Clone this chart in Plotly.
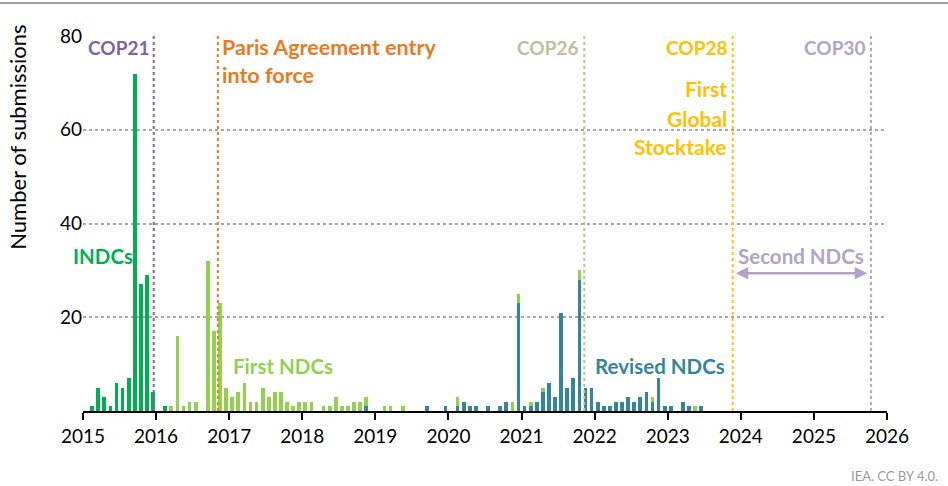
import plotly.graph_objects as go

# monthly submissions, Jan 2015 .. Dec 2023
years = list(range(2015, 2024))

indc = [
    0, 1, 5, 3, 1, 6, 5, 7, 72, 27, 29, 4,      # 2015
    0, 1, 0, 0, 0, 0, 0, 0, 0, 0, 0, 0,         # 2016
] + [0] * 12 * 7

first_ndc = [
    0, 0, 0, 0, 0, 0, 0, 0, 0, 0, 0, 0,         # 2015
    0, 0, 1, 16, 1, 2, 2, 0, 32, 17, 23, 5,     # 2016
    3, 4, 6, 2, 2, 5, 3, 4, 4, 2, 1, 2,         # 2017
    2, 2, 0, 1, 1, 3, 1, 1, 2, 2, 2, 0,         # 2018
    0, 1, 1, 0, 1, 0, 0, 0, 0, 0, 0, 0,         # 2019
    0, 2, 0, 0, 0, 0, 0, 0, 0, 0, 2, 2,         # 2020
    0, 1, 0, 1, 0, 0, 0, 0, 0, 2, 0, 0,         # 2021
    0, 0, 0, 0, 0, 0, 0, 0, 0, 1, 0, 0,         # 2022
    0, 0, 0, 0, 1, 0, 0, 0, 0, 0, 0, 0,         # 2023
]

revised_ndc = [
    0, 0, 0, 0, 0, 0, 0, 0, 0, 0, 0, 0,         # 2015
    0, 0, 0, 0, 0, 0, 0, 0, 0, 0, 0, 0,         # 2016
    0, 0, 0, 0, 0, 0, 0, 0, 0, 0, 0, 0,         # 2017
    0, 0, 0, 0, 0, 0, 0, 0, 0, 0, 1, 0,         # 2018
    0, 0, 0, 0, 0, 0, 0, 0, 1, 0, 0, 1,         # 2019
    0, 1, 2, 1, 1, 0, 1, 0, 1, 2, 0, 23,        # 2020
    1, 1, 2, 4, 6, 3, 21, 5, 7, 28, 5, 5,       # 2021
    2, 1, 1, 2, 2, 3, 2, 3, 4, 2, 7, 1,         # 2022
    1, 0, 2, 1, 0, 1, 0, 0, 0, 0, 0, 0,         # 2023
]

# milestones (decimal year)
events = [
    ("COP21", 2015.968, "#8064A2"),
    ("Paris", 2016.845, "#E97A1F"),
    ("COP26", 2021.858, "#C4BD97"),
    ("COP28", 2023.89, "#FFC000"),
    ("COP30", 2025.78, "#B3A2C7"),
]

x = [y + (m + 0.5) / 12 for y in years for m in range(12)]

C_INDC = "#00B050"
C_FIRST = "#92D050"
C_REV = "#31869B"
FONT = "Lato"

fig = go.Figure()
for vals, col in [(revised_ndc, C_REV), (first_ndc, C_FIRST), (indc, C_INDC)]:
    fig.add_trace(go.Bar(x=x, y=vals, width=0.052, marker_color=col,
                         marker_line_width=0, showlegend=False))

for name, xe, col in events:
    fig.add_shape(type="line", x0=xe, x1=xe, y0=0, y1=80, xref="x", yref="y",
                  line=dict(color=col, width=2, dash="dot"))

def label(text, xv, yv, col, anchor, size=20.5):
    fig.add_annotation(x=xv, y=yv, text="<b>%s</b>" % text, showarrow=False,
                       xanchor=anchor, yanchor="middle",
                       font=dict(family=FONT, size=size, color=col))

label("COP21", 2015.93, 77.6, "#8064A2", "right", 19)
label("Paris Agreement entry", 2016.88, 77.6, "#E97A1F", "left", 21.5)
label("into force", 2016.88, 71.6, "#E97A1F", "left", 21.5)
label("COP26", 2021.80, 77.6, "#C4BD97", "right", 19)
label("COP28", 2023.845, 77.6, "#FFC000", "right", 19)
label("First", 2023.845, 68.7, "#FFC000", "right", 21)
label("Global", 2023.845, 62.5, "#FFC000", "right", 21)
label("Stocktake", 2023.845, 56.5, "#FFC000", "right", 21)
label("COP30", 2025.73, 77.6, "#B3A2C7", "right", 19)
label("INDCs", 2015.27, 33.1, C_INDC, "center")
label("First NDCs", 2017.03, 9.6, C_FIRST, "left")
label("Revised NDCs", 2021.98, 9.6, C_REV, "left")
label("Second NDCs", 2023.93, 33.1, "#B3A2C7", "left")

fig.add_annotation(x=2025.73, y=29.4, ax=2023.91, ay=29.4, xref="x", yref="y",
                   axref="x", ayref="y", text="", showarrow=True,
                   arrowside="end+start", arrowhead=2, arrowsize=1, arrowwidth=2.5,
                   arrowcolor="#B3A2C7")

fig.add_annotation(x=-0.081, y=0.731, xref="paper", yref="paper", text="Number of submissions",
                   textangle=-90, showarrow=False, xanchor="center", yanchor="middle",
                   font=dict(family=FONT, size=22, color="#000"))

fig.add_annotation(x=1.066, y=-0.173, xref="paper", yref="paper", text="IEA. CC BY 4.0.",
                   showarrow=False, xanchor="right", yanchor="middle",
                   font=dict(family=FONT, size=13, color="#999999"))

fig.add_shape(type="line", xref="paper", yref="paper", x0=-0.12, x1=1.1, y0=1.088, y1=1.088,
              line=dict(color="#A0A0A0", width=2))

fig.update_xaxes(range=[2015, 2026], tick0=2015, dtick=1, tickformat="d",
                 showgrid=False, showline=True, linecolor="#000", linewidth=1.5,
                 ticks="outside", ticklen=7, tickcolor="#000", tickwidth=1.5,
                 tickfont=dict(family=FONT, size=19, color="#000"), zeroline=False)
fig.update_yaxes(range=[0, 80], tickvals=[20, 40, 60, 80], showgrid=True,
                 gridcolor="#A6A6A6", gridwidth=2, griddash="dot", zeroline=False,
                 showline=False, ticks="", tickfont=dict(family=FONT, size=19, color="#000"))

fig.update_layout(width=948, height=486, barmode="stack", bargap=0,
                  plot_bgcolor="white", paper_bgcolor="white",
                  margin=dict(l=83, r=61, t=36, b=75), showlegend=False,
                  font=dict(family=FONT))

fig.write_html("out.html", config={"displayModeBar": False},
               post_script="document.body.style.margin='0';")
